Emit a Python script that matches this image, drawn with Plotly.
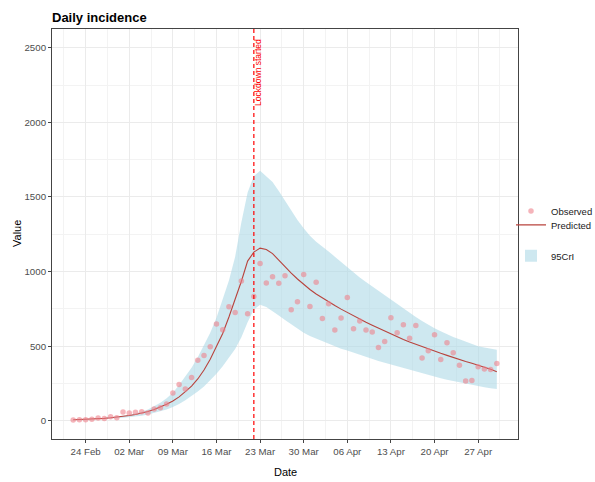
import pandas as pd
import plotly.graph_objects as go

start_date = "2020-02-22"
n_days = 69
dates = pd.date_range(start_date, periods=n_days, freq="D")

observed = [5, 7, 7, 9, 18, 15, 27, 20, 58, 51, 56, 60, 51, 78, 87, 112, 185, 243, 212,
            290, 406, 438, 496, 648, 610, 764, 726, 936, 717, 833,
            1054, 924, 965, 922, 972, 744, 798, 981, 766, 929,
            686, 784, 608, 688, 826, 617, 668, 608, 594, 491,
            531, 690, 590, 643, 552, 639, 420, 469, 576, 411,
            523, 456, 371, 266, 270, 362, 346, 344, 384]

predicted = [6, 7, 9, 11, 13, 16, 20, 24, 29, 35,
             42, 51, 62, 75, 90, 110, 132, 160, 195, 232,
             280, 340, 412, 497, 585, 695, 810, 935, 1070, 1130,
             1157, 1148, 1120, 1075, 1030, 990, 950, 912, 880, 850,
             822, 796, 772, 748, 725, 703, 682, 660, 640, 620,
             600, 580, 562, 545, 528, 512, 496, 481, 466, 452,
             438, 423, 410, 397, 385, 372, 360, 345, 328]

upper = [7, 8, 10, 12, 15, 18, 22, 27, 33, 40,
         49, 60, 75, 95, 120, 150, 188, 240, 300, 355,
         425, 510, 590, 690, 810, 940, 1100, 1330, 1530, 1640,
         1675, 1640, 1600, 1540, 1475, 1410, 1345, 1290, 1240, 1200,
         1170, 1135, 1100, 1065, 1025, 990, 960, 930, 900, 870,
         840, 810, 780, 750, 722, 695, 668, 643, 620, 600,
         580, 562, 546, 530, 515, 500, 490, 482, 476]

lower = [5, 6, 7, 9, 10, 12, 14, 17, 20, 24,
         28, 34, 42, 52, 63, 76, 92, 112, 138, 165,
         195, 230, 270, 315, 365, 420, 480, 560, 660, 745,
         777, 762, 735, 705, 675, 645, 615, 590, 568, 550,
         533, 515, 498, 483, 470, 455, 440, 425, 412, 400,
         388, 376, 364, 352, 340, 328, 316, 305, 294, 284,
         274, 265, 256, 248, 240, 232, 225, 218, 212]

lockdown_date = "2020-03-22"
lockdown_label = "Lockdown started"
title_text = "Daily incidence"
y_ticks = [0, 500, 1000, 1500, 2000, 2500]

FONT = "Liberation Sans, Arial, sans-serif"
DAY = 86400000
BAND = "rgba(173,216,230,0.6)"

fig = go.Figure()
fig.add_trace(go.Scatter(x=dates, y=lower, mode="lines", line=dict(width=0),
                         showlegend=False, hoverinfo="skip"))
fig.add_trace(go.Scatter(x=dates, y=upper, mode="lines", line=dict(width=0),
                         fill="tonexty", fillcolor=BAND, showlegend=False,
                         name="95CrI"))
fig.add_trace(go.Scatter(x=dates, y=predicted, mode="lines",
                         line=dict(color="#B8433D", width=1.1),
                         name="Predicted", legend="legend2"))
fig.add_trace(go.Scatter(x=dates, y=observed, mode="markers",
                         marker=dict(color="rgba(238,130,140,0.6)", size=5.5),
                         name="Observed", legend="legend"))
# legend key for the ribbon
fig.add_trace(go.Scatter(x=[None], y=[None], mode="markers",
                         marker=dict(symbol="square", size=12, color=BAND),
                         name="95CrI", legend="legend3"))

fig.add_shape(type="line", xref="x", yref="paper", x0=lockdown_date, x1=lockdown_date,
              y0=0, y1=1, line=dict(color="#FF0000", width=1.2, dash="4px,3px"), layer="above")

fig.add_annotation(x=lockdown_date, y=2334, xref="x", yref="y", text=lockdown_label,
                   textangle=-90, showarrow=False, xshift=3.5,
                   font=dict(family=FONT, size=8.5, color="#FF0000"))

fig.add_annotation(x=0, y=1, xref="paper", yref="paper", text="<b>" + title_text + "</b>",
                   showarrow=False, xanchor="left", yanchor="middle", xshift=-2, yshift=12,
                   font=dict(family=FONT, size=13, color="black"))
fig.add_annotation(x=0.5, y=0, xref="paper", yref="paper", text="Date", showarrow=False,
                   yanchor="middle", yshift=-33, font=dict(family=FONT, size=11, color="black"))
fig.add_annotation(x=0, y=0.5, xref="paper", yref="paper", text="Value", showarrow=False,
                   textangle=-90, xanchor="center", xshift=-35,
                   font=dict(family=FONT, size=11, color="black"))

x_lo = pd.Timestamp(start_date) - pd.Timedelta(days=3.4)
x_hi = pd.Timestamp(start_date) + pd.Timedelta(days=68 + 3.4)

axis_common = dict(showline=True, linecolor="#444", linewidth=1, mirror=True,
                   ticks="outside", ticklen=3, tickcolor="#444",
                   showgrid=True, gridcolor="#EBEBEB", gridwidth=1, zeroline=False,
                   tickfont=dict(family=FONT, size=9.7, color="#4D4D4D"))

fig.update_xaxes(type="date", range=[x_lo, x_hi], tick0="2020-02-24", dtick=7 * DAY,
                 tickformat="%d %b",
                 minor=dict(dtick=7 * DAY, tick0="2020-02-20 12:00", showgrid=True,
                            gridcolor="#F3F3F3", gridwidth=0.7, ticks=""),
                 **axis_common)
fig.update_yaxes(range=[-122.6, 2626], tickvals=y_ticks,
                 minor=dict(dtick=250, tick0=250, showgrid=True,
                            gridcolor="#F3F3F3", gridwidth=0.7, ticks=""),
                 **axis_common)

legend_font = dict(family=FONT, size=9.5, color="#1a1a1a")
lx = (511 - 52) / 466
W, H = 595, 482
fig.update_layout(
    width=W, height=H,
    margin=dict(l=52, r=77, t=29, b=43, autoexpand=False),
    plot_bgcolor="white", paper_bgcolor="white",
    font=dict(family=FONT, size=10, color="#4D4D4D"),
    showlegend=True,
    legend=dict(x=lx, y=0.5564, xanchor="left", yanchor="middle", font=legend_font,
                bgcolor="rgba(0,0,0,0)"),
    legend2=dict(x=lx, y=0.5223, xanchor="left", yanchor="middle", font=legend_font,
                 bgcolor="rgba(0,0,0,0)"),
    legend3=dict(x=lx, y=0.4467, xanchor="left", yanchor="middle", font=legend_font,
                 bgcolor="rgba(0,0,0,0)"),
)

fig.write_html(
    "out.html",
    config={"displayModeBar": False},
    post_script="document.body.style.margin='0px';document.body.style.overflow='hidden';",
)
